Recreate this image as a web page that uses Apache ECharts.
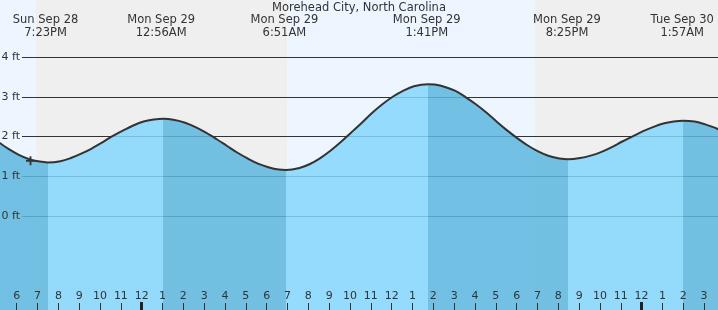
<!DOCTYPE html>
<html><head><meta charset="utf-8">
<script src="https://cdn.jsdelivr.net/npm/echarts@6/dist/echarts.min.js"></script>
<style>html,body{margin:0;padding:0;background:#fff}#c{width:718px;height:310px}</style>
</head><body><div id="c"></div>
<script>
// ---- data (time = hours relative to midnight starting Mon Sep 29) ----
const chartTitle = 'Morehead City, North Carolina';
const readingTimes = [
  -7, -6.5, -6, -5.5, -5, -4.617, -4, -3.5, -3, -2.5, -2, -1.5, -1, -0.5, 0, 0.5, 0.933,
  1.5, 2, 2.5, 3, 3.5, 4, 4.5, 5, 5.5, 6, 6.5, 6.85,
  7.5, 8, 8.5, 9, 9.5, 10, 10.5, 11, 11.5, 12, 12.5, 13, 13.683,
  14, 14.5, 15, 15.5, 16, 16.5, 17, 17.5, 18, 18.5, 19, 19.5, 20, 20.417,
  21, 21.5, 22, 22.5, 23, 23.5, 24, 24.5, 25, 25.5, 25.95,
  26.5, 27, 27.5, 28];
const readingHeights = [
  1.87, 1.69, 1.54, 1.43, 1.37, 1.35, 1.38, 1.46, 1.57, 1.70, 1.85, 2.01, 2.15, 2.28, 2.38, 2.43, 2.45,
  2.42, 2.35, 2.24, 2.10, 1.94, 1.77, 1.60, 1.45, 1.32, 1.23, 1.17, 1.16,
  1.21, 1.31, 1.46, 1.65, 1.87, 2.11, 2.35, 2.60, 2.82, 3.01, 3.16, 3.27, 3.32,
  3.31, 3.25, 3.15, 2.99, 2.81, 2.60, 2.37, 2.15, 1.95, 1.77, 1.62, 1.51, 1.45, 1.43,
  1.46, 1.52, 1.61, 1.73, 1.87, 2.00, 2.13, 2.24, 2.33, 2.38, 2.40,
  2.38, 2.31, 2.22, 2.09];
const extremeTimes   = [-4.617, 0.933, 6.85, 13.683, 20.417, 25.95];
const extremeHeights = [1.35, 2.45, 1.16, 3.32, 1.43, 2.40];
const extremeLabels  = ['Sun Sep 28\n7:23PM', 'Mon Sep 29\n12:56AM', 'Mon Sep 29\n6:51AM', 'Mon Sep 29\n1:41PM', 'Mon Sep 29\n8:25PM', 'Tue Sep 30\n1:57AM'];
const dayRanges   = [[-8, -5.18], [6.9, 18.83]];
const nightRanges = [[-5.18, 6.9], [18.83, 30]];
const hourTicks = [-6,-5,-4,-3,-2,-1,0,1,2,3,4,5,6,7,8,9,10,11,12,13,14,15,16,17,18,19,20,21,22,23,24,25,26,27];
const hourTickLabels = ['6','7','8','9','10','11','12','1','2','3','4','5','6','7','8','9','10','11','12','1','2','3','4','5','6','7','8','9','10','11','12','1','2','3'];
const midnightTicks = [0, 24];
const heightTickMin = 0, heightTickMax = 4, heightTickStep = 1;
const nowTime = -5.44, nowHeight = 1.39;

// ---- presentation ----
const FONT = 'DejaVu Sans';
const TXT = '#333';
const DAY = '#EDF6FE', NIGHT = '#EFEFEF';
const RISING = '#84D6FD', EBBING = '#5CB7E0';
const X_MIN = -6.907, X_MAX = 27.629;    // data axis
const TX_MIN = -6.803, TX_MAX = 27.667;  // tick/label axis
const Y_MIN = -2.368, Y_MAX = 5.441;
const SMOOTH = 0.35;

const bands = [];
dayRanges.forEach(r => bands.push([r[0], r[1], 0]));
nightRanges.forEach(r => bands.push([r[0], r[1], 1]));

const readings = readingTimes.map((t, i) => [t, readingHeights[i]]);

// phase pieces: after a high -> ebbing (dark), after a low -> rising (light)
const pieces = [];
const firstIsLow = extremeHeights[0] < extremeHeights[1];
pieces.push({ lt: extremeTimes[0], color: firstIsLow ? EBBING : RISING });
for (let i = 0; i < extremeTimes.length; i++) {
  const isLow = i + 1 < extremeHeights.length ? extremeHeights[i] < extremeHeights[i + 1] : extremeHeights[i] < extremeHeights[i - 1];
  const p = { gte: extremeTimes[i], color: isLow ? RISING : EBBING };
  if (i + 1 < extremeTimes.length) p.lt = extremeTimes[i + 1];
  pieces.push(p);
}

const chart = echarts.init(document.getElementById('c'), null, { renderer: 'canvas' });
chart.setOption({
  animation: false,
  title: {
    text: chartTitle, left: 'center', top: 2, padding: 0, z: 6,
    textStyle: { fontFamily: FONT, fontSize: 11.5, fontWeight: 'normal', color: TXT }
  },
  grid: [
    { left: 0, right: 0, top: 0, bottom: 0, outerBoundsMode: 'none' },
    { left: 22, right: 0, top: 57, height: 159, outerBoundsMode: 'none' }
  ],
  visualMap: { type: 'piecewise', show: false, dimension: 0, seriesIndex: 1, pieces: pieces },
  xAxis: [
    { gridIndex: 0, type: 'value', min: X_MIN, max: X_MAX, show: false, position: 'bottom', axisLine: { onZero: false } },
    { gridIndex: 0, type: 'value', min: TX_MIN, max: TX_MAX, position: 'bottom', z: 6,
      axisLine: { show: false, onZero: false }, splitLine: { show: false },
      axisTick: { show: true, inside: true, length: 7, customValues: hourTicks, lineStyle: { color: TXT, width: 1 } },
      axisLabel: { inside: true, margin: 8, customValues: hourTicks, fontFamily: FONT, fontSize: 11, lineHeight: 12, color: TXT,
        formatter: v => { const i = hourTicks.findIndex(h => Math.abs(h - v) < 1e-6); return i < 0 ? '' : hourTickLabels[i]; } } },
    { gridIndex: 0, type: 'value', min: TX_MIN, max: TX_MAX, position: 'bottom', z: 7,
      axisLine: { show: false, onZero: false }, splitLine: { show: false },
      axisTick: { show: true, inside: true, length: 8, customValues: midnightTicks, lineStyle: { color: '#222', width: 3 } },
      axisLabel: { show: false } },
    { gridIndex: 0, type: 'value', min: TX_MIN, max: TX_MAX, position: 'top', z: 6,
      axisLine: { show: false, onZero: false }, splitLine: { show: false }, axisTick: { show: false },
      axisLabel: { inside: true, margin: 14, customValues: extremeTimes, fontFamily: FONT, fontSize: 11.5, lineHeight: 13, color: TXT, align: 'center',
        formatter: v => { const i = extremeTimes.findIndex(t => Math.abs(t - v) < 1e-6); return i < 0 ? '' : extremeLabels[i]; } } },
    { gridIndex: 1, type: 'value', min: 0, max: 1, show: false, axisLine: { onZero: false } }
  ],
  yAxis: [
    { gridIndex: 0, type: 'value', min: Y_MIN, max: Y_MAX, show: false, axisLine: { onZero: false } },
    { gridIndex: 1, type: 'value', min: heightTickMin, max: heightTickMax, interval: heightTickStep, position: 'left', z: 0,
      axisLine: { show: false, onZero: false }, axisTick: { show: false }, axisLabel: { show: false },
      splitLine: { show: true, lineStyle: { color: TXT, width: 1 } } },
    { gridIndex: 1, type: 'value', min: heightTickMin, max: heightTickMax, interval: heightTickStep, position: 'left', z: 6,
      axisLine: { show: false, onZero: false }, axisTick: { show: false }, splitLine: { show: false },
      axisLabel: { margin: 2, fontFamily: FONT, fontSize: 11, color: TXT, formatter: '{value} ft' } }
  ],
  series: [
    { type: 'custom', xAxisIndex: 0, yAxisIndex: 0, z: -1, clip: true, silent: true, data: bands,
      encode: { x: [0, 1] },
      renderItem: (params, api) => {
        const s = api.coord([api.value(0), Y_MAX]);
        const e = api.coord([api.value(1), Y_MIN]);
        return { type: 'rect', shape: { x: s[0], y: s[1], width: e[0] - s[0], height: e[1] - s[1] },
                 style: { fill: api.value(2) ? NIGHT : DAY } };
      } },
    { type: 'line', xAxisIndex: 0, yAxisIndex: 0, z: 2, data: readings, smooth: SMOOTH, showSymbol: false, silent: true,
      lineStyle: { width: 0, opacity: 0 }, areaStyle: { origin: 'start', opacity: 0.85 } },
    { type: 'line', xAxisIndex: 0, yAxisIndex: 0, z: 3, data: readings, smooth: SMOOTH, showSymbol: false, silent: true,
      lineStyle: { color: '#333', width: 2 } },
    { type: 'scatter', xAxisIndex: 0, yAxisIndex: 0, z: 4, silent: true, data: [[nowTime, nowHeight]],
      symbol: 'path://M4,0H6V4H10V6H6V10H4V6H0V4H4Z', symbolSize: 9, itemStyle: { color: '#333', opacity: 1 } }
  ]
});
</script>
</body></html>
